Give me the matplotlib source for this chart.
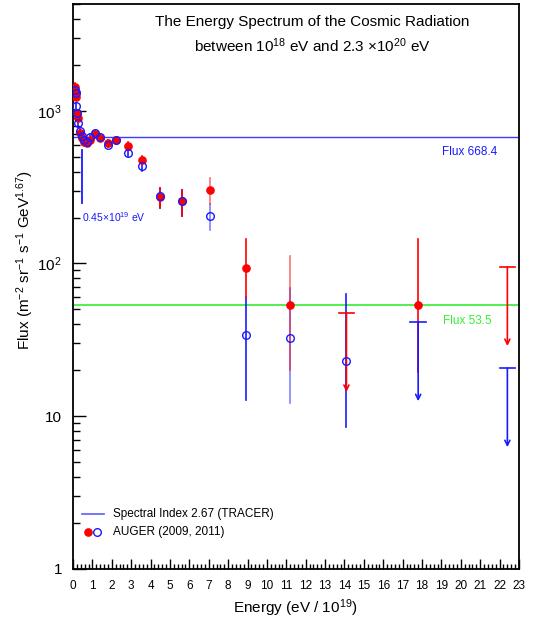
import numpy as np
import matplotlib
matplotlib.use("Agg")
import matplotlib.pyplot as plt
from matplotlib.ticker import LogLocator, MultipleLocator, NullFormatter, FixedLocator

plt.rcParams['font.family'] = ['Liberation Sans', 'DejaVu Sans']
plt.rcParams['mathtext.fontset'] = 'custom'
plt.rcParams['mathtext.rm'] = 'Liberation Sans'
plt.rcParams['mathtext.it'] = 'Liberation Sans:italic'

nan = np.nan

# energy bins in units of 10^19 eV
energy = [0.112, 0.141, 0.178, 0.224, 0.282, 0.355, 0.447, 0.562, 0.708, 0.891,
          1.12, 1.41, 1.78, 2.24, 2.82, 3.55, 4.47, 5.62, 7.08, 8.91,
          11.2, 14.1, 17.8, 22.4]

# AUGER 2011 (filled red)
flux_red = [1420, 1330, 1230, 960, 900, 720, 660, 620, 615, 640,
            700, 665, 615, 645, 590, 475, 273, 257, 301, 93.3,
            53.5, nan, 53.5, nan]
red_lo = [1330, 1260, 1170, 920, 865, 695, 640, 605, 600, 620,
          675, 640, 590, 615, 560, 445, 232, 206, 245, 60,
          20.1, nan, 19.6, nan]
red_hi = [1520, 1400, 1290, 1000, 935, 745, 680, 635, 630, 660,
          725, 690, 640, 675, 625, 505, 313, 301, 362, 144.5,
          112, nan, 144.5, nan]

# AUGER 2009 (open blue)
flux_blue = [1370, 1300, 1080, 960, 830, 740, 680, 640, 625, 670,
             710, 670, 600, 640, 530, 435, 275, 255, 204, 34.0,
             32.5, 23.0, nan, nan]
blue_lo = [1300, 1240, 1030, 925, 800, 715, 660, 622, 608, 650,
           685, 645, 578, 612, 505, 405, 232, 206, 165, 12.8,
           12.2, 8.55, nan, nan]
blue_hi = [1440, 1360, 1130, 995, 860, 765, 700, 658, 642, 690,
           735, 695, 622, 668, 560, 465, 313, 301, 245, 60,
           69, 63, nan, nan]

# upper limits
ul_red_e = [14.1, 22.4]
ul_red = [47.6, 95.1]
ul_blue_e = [17.8, 22.4]
ul_blue = [41.4, 20.7]

flux_tracer = 668.4
flux_high = 53.5
cut_energy = 0.45
cut_range = [248, 552]

RED = '#ff0000'
BLUE = '#1a1aff'
GREEN = '#33ee33'

fig = plt.figure(figsize=(5.38, 6.23), dpi=100)
ax = fig.add_axes([0.1357, 0.0867, 0.829, 0.9069])
ax.set_yscale('log')
ax.set_xlim(0, 23)
ax.set_ylim(1, 5000)

# reference flux levels
ax.axhline(flux_tracer, color=BLUE, lw=1.0, alpha=0.85, zorder=1)
ax.axhline(flux_high, color=GREEN, lw=1.2, zorder=1)
ax.annotate('Flux 668.4', xy=(21.9, flux_tracer), xytext=(0, -6),
            textcoords='offset points', ha='right', va='top', color=BLUE, fontsize=8.5)
ax.annotate('Flux 53.5', xy=(21.6, flux_high), xytext=(0, -7),
            textcoords='offset points', ha='right', va='top', color=GREEN, fontsize=8.5)

# 0.45 x 10^19 eV marker
ax.plot([cut_energy, cut_energy], cut_range, color=BLUE, lw=1.3)
ax.text(cut_energy, 201, r'0.45$\times$10$^{19}$ eV', color=BLUE, fontsize=7.5,
        ha='left', va='center')

e = np.array(energy)
fb = np.array(flux_blue)
fr = np.array(flux_red)

# error bars
for x, lo, hi in zip(energy, blue_lo, blue_hi):
    if not np.isnan(lo):
        a = 0.55 if x in (7.08, 11.2) else 1.0
        ax.plot([x, x], [lo, hi], color=BLUE, lw=1.2, alpha=a, zorder=2)
for x, lo, hi in zip(energy, red_lo, red_hi):
    if not np.isnan(lo):
        a = 0.55 if x in (7.08, 11.2) else 1.0
        ax.plot([x, x], [lo, hi], color=RED, lw=1.2, alpha=a, zorder=3)

ax.plot(e, fr, 'o', color=RED, ms=5.2, zorder=4)
ax.plot(e, fb, 'o', mfc='none', mec=BLUE, mew=1.0, ms=5.5, zorder=5)


def upper_limit(x, v, color, w=0.4):
    ax.plot([x - w, x + w], [v, v], color=color, lw=1.2, zorder=3)
    ax.annotate('', xy=(x, v / 3.3), xytext=(x, v),
                arrowprops=dict(arrowstyle='->', color=color, lw=1.2,
                                shrinkA=0, shrinkB=0, mutation_scale=9), zorder=3)


for x, v in zip(ul_red_e, ul_red):
    upper_limit(x, v, RED)
for x, v in zip(ul_blue_e, ul_blue):
    upper_limit(x, v, BLUE)

# title inside the frame
ax.text(0.536, 0.968, 'The Energy Spectrum of the Cosmic Radiation',
        transform=ax.transAxes, ha='center', va='center', fontsize=11)
ax.text(0.536, 0.926, r'between 10$^{18}$ eV and 2.3 $\times$10$^{20}$ eV',
        transform=ax.transAxes, ha='center', va='center', fontsize=11)

# legend drawn by hand
ax.plot([0.02, 0.07], [0.0975, 0.0975], transform=ax.transAxes, color=BLUE, lw=1.2, alpha=0.7)
ax.text(0.0897, 0.0975, 'Spectral Index 2.67 (TRACER)', transform=ax.transAxes,
        ha='left', va='center', fontsize=8.5)
ax.plot([0.033], [0.0655], 'o', transform=ax.transAxes, color=RED, ms=5.2)
ax.plot([0.0545], [0.0655], 'o', transform=ax.transAxes, mfc='none', mec=BLUE, ms=5.5)
ax.text(0.0897, 0.0655, 'AUGER (2009, 2011)', transform=ax.transAxes,
        ha='left', va='center', fontsize=8.5)

# axes
ax.xaxis.set_major_locator(MultipleLocator(1))
ax.xaxis.set_minor_locator(MultipleLocator(0.2))
ax.yaxis.set_major_locator(FixedLocator([1, 10, 100, 1000]))
ax.set_yticklabels(['1', '10', r'10$^{2}$', r'10$^{3}$'])
ax.yaxis.set_minor_locator(LogLocator(base=10, subs=np.arange(2, 10)))
ax.yaxis.set_minor_formatter(NullFormatter())
ax.tick_params(axis='x', which='major', direction='in', length=7, width=1, labelsize=8.5, pad=8)
ax.tick_params(axis='x', which='minor', direction='in', length=3.5, width=1)
ax.tick_params(axis='y', which='major', direction='in', length=9, width=1, labelsize=11, pad=8)
ax.tick_params(axis='y', which='minor', direction='in', length=5, width=1)
for s in ax.spines.values():
    s.set_linewidth(1.3)

ax.set_xlabel(r'Energy (eV / 10$^{19}$)', fontsize=11)
ax.xaxis.set_label_coords(0.498, -0.051)
ax.set_ylabel(r'Flux (m$^{-2}$ sr$^{-1}$ s$^{-1}$ GeV$^{1.67}$)', fontsize=11)
ax.yaxis.set_label_coords(-0.082, 0.547)

fig.savefig('out.png', dpi=100)
